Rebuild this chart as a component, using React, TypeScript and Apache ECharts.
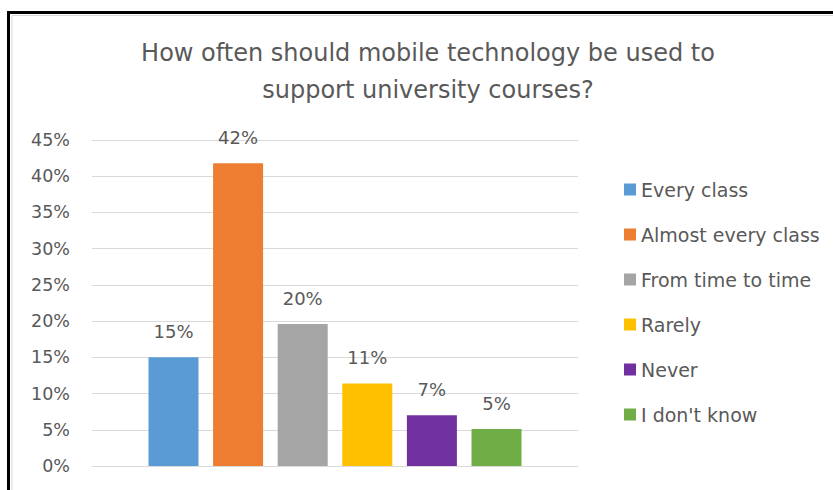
import React, { useEffect, useRef } from "react";
import * as echarts from "echarts";

const titleText = "How often should mobile technology be used to\nsupport university courses?";
const categories = [""];
const seriesNames = ["Every class", "Almost every class", "From time to time", "Rarely", "Never", "I don't know"];
const seriesValues = [15.0, 41.8, 19.6, 11.4, 7.0, 5.1];
const seriesColors = ["#5B9BD5", "#ED7D31", "#A5A5A5", "#FFC000", "#7030A0", "#70AD47"];
const yTicks = { min: 0, max: 45, interval: 5 };

const FONT = "DejaVu Sans";
const TXT = "#595959";

export default function App() {
  const ref = useRef<HTMLDivElement>(null);
  useEffect(() => {
    if (!ref.current) return;
    const chart = echarts.init(ref.current, null, { renderer: "svg" });
    chart.setOption({
      animation: false,
      backgroundColor: "#ffffff",
      textStyle: { fontFamily: FONT },
      title: {
        text: titleText,
        left: 428,
        top: 34,
        padding: 0,
        textAlign: "center",
        textStyle: { fontFamily: FONT, fontSize: 24, fontWeight: "normal", color: TXT, lineHeight: 37 },
      },
      graphic: [
        {
          type: "rect",
          silent: true,
          shape: { x: 12, y: 15.5, width: 900, height: 600 },
          style: { fill: "none", stroke: "#d9d9d9", lineWidth: 1 },
        },
        {
          type: "rect",
          silent: true,
          shape: { x: 8.5, y: 12.5, width: 900, height: 600 },
          style: { fill: "none", stroke: "#000000", lineWidth: 3 },
        },
      ],
      legend: {
        orient: "vertical",
        left: 619,
        top: 175,
        itemWidth: 12,
        itemHeight: 12,
        itemGap: 26,
        itemTextGap: 9,
        icon: "rect",
        textStyle: { fontFamily: FONT, fontSize: 19, color: TXT },
        data: seriesNames,
      },
      grid: { left: 92, right: 255, top: 140, bottom: 24, containLabel: false },
      xAxis: {
        type: "category",
        data: categories,
        axisLine: { show: false },
        axisTick: { show: false },
        axisLabel: { show: false },
      },
      yAxis: {
        type: "value",
        min: yTicks.min,
        max: yTicks.max,
        interval: yTicks.interval,
        axisLabel: { formatter: "{value}%", fontFamily: FONT, fontSize: 17.5, color: TXT, margin: 22 },
        splitLine: { lineStyle: { color: "#d9d9d9", width: 1 } },
        axisLine: { show: false },
        axisTick: { show: false },
      },
      series: seriesNames.map((name, i) => ({
        name,
        type: "bar",
        data: [seriesValues[i]],
        barWidth: 50,
        barGap: "29.2%",
        itemStyle: { color: seriesColors[i] },
        label: {
          show: true,
          position: "top",
          distance: 17,
          formatter: (p: any) => Math.round(p.value) + "%",
          fontFamily: FONT,
          fontSize: 18,
          color: TXT,
        },
      })),
    });
    return () => chart.dispose();
  }, []);
  return (
    <div
      ref={ref}
      style={{ position: "fixed", left: 0, top: 0, width: 833, height: 490 }}
    />
  );
}
